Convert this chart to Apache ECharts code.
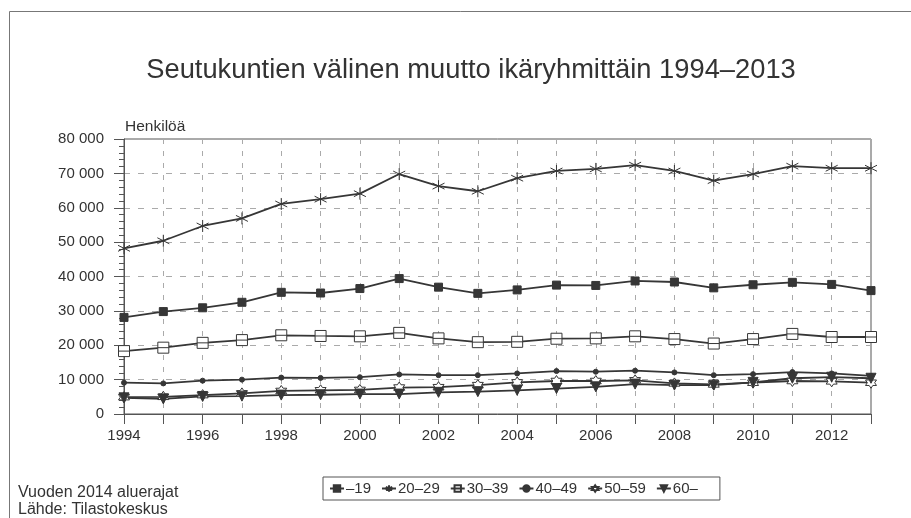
<!DOCTYPE html>
<html>
<head>
<meta charset="utf-8">
<script src="https://cdn.jsdelivr.net/npm/echarts@6/dist/echarts.min.js"></script>
<style>
  html, body { margin: 0; padding: 0; background: #fff; }
  #chart { width: 911px; height: 518px; }
</style>
</head>
<body>
<div id="chart"></div>
<script>
// Vuodet
const years = ['1994','1995','1996','1997','1998','1999','2000','2001','2002','2003',
               '2004','2005','2006','2007','2008','2009','2010','2011','2012','2013'];

// Muuttaneet henkilöt ikäryhmittäin
const age0_19  = [28100,29800,30900,32500,35400,35200,36500,39400,36900,35100,
                  36100,37500,37400,38700,38400,36700,37600,38300,37700,35900];
const age20_29 = [48200,50400,54700,56900,61100,62500,64100,69800,66300,64800,
                  68600,70700,71300,72400,70700,67900,69800,72100,71500,71500];
const age30_39 = [18300,19300,20700,21500,22900,22700,22600,23600,22000,20900,
                  21000,21900,22000,22600,21800,20500,21800,23300,22400,22400];
const age40_49 = [9100,8900,9700,10000,10600,10500,10700,11500,11300,11300,
                  11800,12500,12300,12600,12100,11300,11600,12200,11800,11100];
const age50_59 = [4900,5000,5500,6000,6700,6900,7000,7700,7800,8400,
                  9200,9600,9600,9800,8900,8600,9100,9600,9500,9100];
const age60    = [4700,4400,5100,5200,5500,5600,5800,5800,6300,6500,
                  6900,7400,7900,8700,8400,8400,9200,10400,10700,10400];

const seriesNames = ['–19','20–29','30–39','40–49','50–59','60–'];

const ink = '#363636';
const textColor = '#333';
const fontFamily = '"Liberation Sans", Arial, sans-serif';

// Merkkisymbolit
const SYM_ASTERISK = 'path://M5,0L5,10M0.7,2.5L9.3,7.5M0.7,7.5L9.3,2.5';
const SYM_BOXLINE  = 'path://M0,0L10,0L10,10L0,10ZM0,5L10,5';
const SYM_STAR6    = 'path://M5,0L6.44,2.5L9.33,2.5L7.89,5L9.33,7.5L6.44,7.5L5,10L3.56,7.5L0.67,7.5L2.11,5L0.67,2.5L3.56,2.5Z';
const SYM_TRIDOWN  = 'path://M0,0L10,0L5,9Z';

function lineSeries(name, data, symbol, size, fill) {
  return {
    name: name,
    type: 'line',
    data: data,
    symbol: symbol,
    symbolSize: size,
    showAllSymbol: true,
    color: ink,
    lineStyle: { color: ink, width: 1.8 },
    itemStyle: { color: fill, borderColor: ink, borderWidth: 1 },
    emphasis: { disabled: true },
    animation: false
  };
}

const chart = echarts.init(document.getElementById('chart'), null, { renderer: 'canvas' });

chart.setOption({
  backgroundColor: '#fff',
  animation: false,
  textStyle: { fontFamily: fontFamily },
  grid: {
    left: 124, right: 40, top: 139, bottom: 104,
    show: true, borderColor: '#555', borderWidth: 1
  },
  xAxis: {
    type: 'category',
    data: years,
    boundaryGap: false,
    axisLine: { lineStyle: { color: '#555', width: 1 } },
    axisTick: { show: true, interval: 0, length: 10, lineStyle: { color: '#555' } },
    axisLabel: { interval: 1, color: textColor, fontSize: 15, margin: 14, fontFamily: fontFamily },
    splitLine: { show: true, interval: 0, lineStyle: { color: '#aaa', type: [5, 7], width: 1 } }
  },
  yAxis: {
    type: 'value',
    min: 0, max: 80000, interval: 10000,
    axisLine: { show: true, lineStyle: { color: '#555', width: 1 } },
    axisTick: { show: true, length: 10, lineStyle: { color: '#555' } },
    minorTick: { show: true, splitNumber: 5, length: 5, lineStyle: { color: '#555' } },
    axisLabel: {
      color: textColor, fontSize: 15, margin: 20, fontFamily: fontFamily,
      formatter: v => v === 0 ? '0' : (v / 1000) + ' 000'
    },
    splitLine: { show: true, lineStyle: { color: '#aaa', type: [6, 8], width: 1 } }
  },
  legend: {
    left: 323, top: 477,
    data: seriesNames,
    orient: 'horizontal',
    borderColor: '#555', borderWidth: 1,
    padding: [4, 22, 4, 6],
    itemGap: 10,
    itemWidth: 14, itemHeight: 8,
    textStyle: { color: textColor, fontSize: 15, fontFamily: fontFamily, padding: [0, 0, 0, -3] }
  },
  series: [
    lineSeries(seriesNames[0], age0_19, 'rect', 8, ink),
    lineSeries(seriesNames[1], age20_29, SYM_ASTERISK, 12, 'none'),
    lineSeries(seriesNames[2], age30_39, SYM_BOXLINE, 11, '#fff'),
    lineSeries(seriesNames[3], age40_49, 'circle', 5, ink),
    lineSeries(seriesNames[4], age50_59, SYM_STAR6, 11, '#fff'),
    lineSeries(seriesNames[5], age60, SYM_TRIDOWN, 10, ink)
  ],
  graphic: [
    {
      type: 'rect', silent: true, z: -1,
      shape: { x: 9.5, y: 11.5, width: 960, height: 600 },
      style: { fill: 'none', stroke: '#777', lineWidth: 1 }
    },
    {
      type: 'text', x: 471, y: 70, silent: true,
      style: {
        text: 'Seutukuntien välinen muutto ikäryhmittäin 1994–2013',
        fill: textColor, font: '27.3px ' + fontFamily,
        align: 'center', verticalAlign: 'middle'
      }
    },
    {
      type: 'text', x: 125, y: 127, silent: true,
      style: { text: 'Henkilöä', fill: textColor, font: '15.5px ' + fontFamily, verticalAlign: 'middle' }
    },
    {
      type: 'text', x: 18, y: 493, silent: true,
      style: { text: 'Vuoden 2014 aluerajat', fill: textColor, font: '16px ' + fontFamily, verticalAlign: 'middle' }
    },
    {
      type: 'text', x: 18, y: 510, silent: true,
      style: { text: 'Lähde: Tilastokeskus', fill: textColor, font: '16px ' + fontFamily, verticalAlign: 'middle' }
    }
  ]
});
</script>
</body>
</html>
